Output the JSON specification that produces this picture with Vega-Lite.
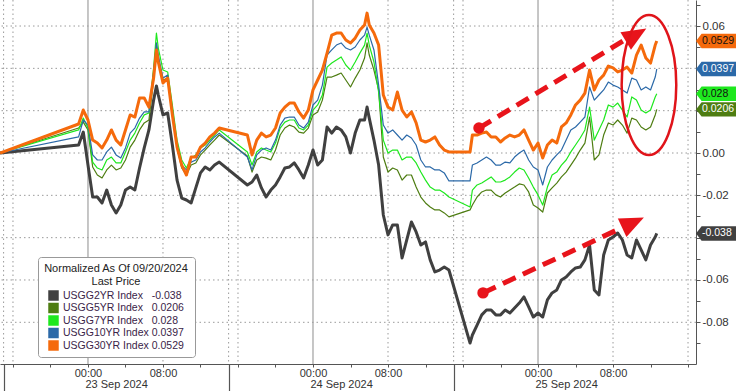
{
  "$schema": "https://vega.github.io/schema/vega-lite/v6.json",
  "width": 696,
  "height": 364,
  "autosize": {"type": "none"},
  "padding": {"left": 0, "top": 0, "right": 40, "bottom": 27},
  "background": "white",
  "config": {
    "view": {"stroke": null},
    "font": "Liberation Sans",
    "axis": {"labelFont": "Liberation Sans", "labelFontSize": 11, "labelColor": "#333333"},
    "legend": {"labelFont": "Liberation Sans", "titleFont": "Liberation Sans"}
  },
  "resolve": {"axis": {"x": "independent", "y": "independent"}, "legend": {"color": "independent"}},
  "layer": [
    {
      "data": {"values": [{"v": -0.08}, {"v": -0.06}, {"v": -0.04}, {"v": -0.02}, {"v": 0}, {"v": 0.02}, {"v": 0.04}, {"v": 0.06}]},
      "mark": {"type": "rule", "color": "#9a9a9a", "strokeWidth": 1, "strokeDash": [1.5, 3]},
      "encoding": {
        "y": {"field": "v", "type": "quantitative", "scale": {"domain": [-0.0997, 0.0723], "nice": false, "zero": false}, "axis": null}
      }
    },
    {
      "data": {"values": [{"t": "2024-09-22T16:00"}, {"t": "2024-09-23T08:00"}, {"t": "2024-09-23T16:00"}, {"t": "2024-09-24T08:00"}, {"t": "2024-09-24T16:00"}, {"t": "2024-09-25T08:00"}, {"t": "2024-09-25T16:00"}]},
      "mark": {"type": "rule", "color": "#9a9a9a", "strokeWidth": 1, "strokeDash": [1.5, 3]},
      "encoding": {
        "x": {"field": "t", "type": "temporal", "scale": {"domain": [{"year": 2024, "month": 9, "date": 22, "hours": 14, "minutes": 37}, {"year": 2024, "month": 9, "date": 25, "hours": 16, "minutes": 51}]}, "axis": null}
      }
    },
    {
      "data": {"values": [{"t": "2024-09-23T00:00"}, {"t": "2024-09-24T00:00"}, {"t": "2024-09-25T00:00"}]},
      "mark": {"type": "rule", "color": "#a0a0a0", "strokeWidth": 1.2},
      "encoding": {
        "x": {"field": "t", "type": "temporal", "scale": {"domain": [{"year": 2024, "month": 9, "date": 22, "hours": 14, "minutes": 37}, {"year": 2024, "month": 9, "date": 25, "hours": 16, "minutes": 51}]}, "axis": null}
      }
    },
    {
      "data": {"values": [{"t": "2024-09-22T15:00"}, {"t": "2024-09-23T15:00"}, {"t": "2024-09-24T15:00"}]},
      "mark": {"type": "rule", "color": "#9a9a9a", "strokeWidth": 1, "strokeDash": [1.5, 3]},
      "encoding": {
        "x": {
          "field": "t", "type": "temporal",
          "scale": {"domain": [{"year": 2024, "month": 9, "date": 22, "hours": 14, "minutes": 37}, {"year": 2024, "month": 9, "date": 25, "hours": 16, "minutes": 51}]},
          "axis": {
            "orient": "bottom", "title": null, "domain": false, "grid": false,
            "values": [{"year": 2024, "month": 9, "date": 22, "hours": 15}, {"year": 2024, "month": 9, "date": 23, "hours": 15}, {"year": 2024, "month": 9, "date": 24, "hours": 15}],
            "tickSize": 27, "tickColor": "#555555", "tickWidth": 1.2,
            "labelExpr": "timeFormat(time(datum.value) + 43200000, '%d %b %Y')",
            "labelOffset": 112.5, "labelPadding": -13, "labelOverlap": false, "labelBound": false, "labelFlush": false,
            "labelFontSize": 11
          }
        }
      }
    },
    {
      "data": {"values": [
        {"t": "2024-09-22T14:37", "y2": 0, "y5": 0, "y7": 0, "y10": 0, "y30": 0},
        {"t": "2024-09-22T23:00", "y2": 0.0038, "y5": 0.0118, "y7": 0.0109, "y10": 0.0076, "y30": 0.0137},
        {"t": "2024-09-22T23:30", "y2": 0.0099, "y5": 0.0146, "y7": 0.0165, "y10": 0.0156, "y30": 0.0203},
        {"t": "2024-09-23T00:00", "y2": -0.0057, "y5": 0.0109, "y7": 0.0118, "y10": 0.0132, "y30": 0.0156},
        {"t": "2024-09-23T00:30", "y2": -0.0208, "y5": -0.0066, "y7": -0.0043, "y10": -0.0009, "y30": 0.0061},
        {"t": "2024-09-23T01:00", "y2": -0.0208, "y5": -0.0104, "y7": -0.0071, "y10": -0.0033, "y30": 0.0047},
        {"t": "2024-09-23T01:30", "y2": -0.0236, "y5": -0.0118, "y7": -0.0080, "y10": -0.0033, "y30": 0.0024},
        {"t": "2024-09-23T02:00", "y2": -0.0175, "y5": -0.0080, "y7": -0.0033, "y10": 0.0005, "y30": 0.0061},
        {"t": "2024-09-23T02:30", "y2": -0.0246, "y5": -0.0057, "y7": -0.0019, "y10": 0.0028, "y30": 0.0109},
        {"t": "2024-09-23T03:00", "y2": -0.0283, "y5": -0.0080, "y7": -0.0047, "y10": -0.0009, "y30": 0.0061},
        {"t": "2024-09-23T03:30", "y2": -0.0246, "y5": -0.0071, "y7": -0.0047, "y10": -0.0024, "y30": 0.0038},
        {"t": "2024-09-23T04:00", "y2": -0.0175, "y5": -0.0033, "y7": 0.0005, "y10": 0.0024, "y30": 0.0109},
        {"t": "2024-09-23T04:30", "y2": -0.0161, "y5": 0.0028, "y7": 0.0061, "y10": 0.0094, "y30": 0.0180},
        {"t": "2024-09-23T05:00", "y2": -0.0175, "y5": 0.0061, "y7": 0.0094, "y10": 0.0118, "y30": 0.0170},
        {"t": "2024-09-23T05:30", "y2": -0.0071, "y5": 0.0109, "y7": 0.0142, "y10": 0.0165, "y30": 0.0260},
        {"t": "2024-09-23T06:00", "y2": 0.0024, "y5": 0.0142, "y7": 0.0180, "y10": 0.0194, "y30": 0.0260},
        {"t": "2024-09-23T06:30", "y2": 0.0109, "y5": 0.0156, "y7": 0.0189, "y10": 0.0194, "y30": 0.0217},
        {"t": "2024-09-23T07:00", "y2": 0.0250, "y5": 0.0345, "y7": 0.0402, "y10": 0.0383, "y30": 0.0354},
        {"t": "2024-09-23T07:18", "y2": 0.0317, "y5": 0.0510, "y7": 0.0567, "y10": 0.0520, "y30": 0.0487},
        {"t": "2024-09-23T07:30", "y2": 0.0274, "y5": 0.0439, "y7": 0.0496, "y10": 0.0463, "y30": 0.0430},
        {"t": "2024-09-23T08:00", "y2": 0.0180, "y5": 0.0345, "y7": 0.0392, "y10": 0.0354, "y30": 0.0331},
        {"t": "2024-09-23T08:30", "y2": 0.0189, "y5": 0.0354, "y7": 0.0383, "y10": 0.0368, "y30": 0.0354},
        {"t": "2024-09-23T09:00", "y2": 0.0038, "y5": 0.0203, "y7": 0.0227, "y10": 0.0203, "y30": 0.0180},
        {"t": "2024-09-23T09:30", "y2": -0.0128, "y5": 0.0024, "y7": 0.0061, "y10": 0.0038, "y30": 0.0028},
        {"t": "2024-09-23T10:00", "y2": -0.0213, "y5": -0.0071, "y7": -0.0033, "y10": -0.0057, "y30": -0.0057},
        {"t": "2024-09-23T10:30", "y2": -0.0222, "y5": -0.0104, "y7": -0.0071, "y10": -0.0080, "y30": -0.0104},
        {"t": "2024-09-23T11:00", "y2": -0.0236, "y5": -0.0057, "y7": -0.0024, "y10": -0.0043, "y30": -0.0019},
        {"t": "2024-09-23T11:30", "y2": -0.0165, "y5": -0.0047, "y7": -0.0009, "y10": -0.0033, "y30": -0.0019},
        {"t": "2024-09-23T12:00", "y2": -0.0094, "y5": -0.0009, "y7": 0.0024, "y10": 0.0005, "y30": 0.0028},
        {"t": "2024-09-23T12:30", "y2": -0.0066, "y5": 0.0014, "y7": 0.0038, "y10": 0.0024, "y30": 0.0047},
        {"t": "2024-09-23T13:00", "y2": -0.0080, "y5": 0.0038, "y7": 0.0061, "y10": 0.0052, "y30": 0.0076},
        {"t": "2024-09-23T13:30", "y2": -0.0057, "y5": 0.0061, "y7": 0.0085, "y10": 0.0076, "y30": 0.0094},
        {"t": "2024-09-23T14:00", "y2": -0.0043, "y5": 0.0085, "y7": 0.0109, "y10": 0.0094, "y30": 0.0118},
        {"t": "2024-09-23T17:00", "y2": -0.0151, "y5": -0.0014, "y7": 0.0005, "y10": -0.0019, "y30": 0.0085},
        {"t": "2024-09-23T17:30", "y2": -0.0137, "y5": -0.0090, "y7": -0.0057, "y10": -0.0080, "y30": -0.0009},
        {"t": "2024-09-23T18:00", "y2": -0.0104, "y5": -0.0033, "y7": 0.0005, "y10": -0.0009, "y30": 0.0061},
        {"t": "2024-09-23T18:30", "y2": -0.0165, "y5": -0.0019, "y7": 0.0024, "y10": 0.0014, "y30": 0.0094},
        {"t": "2024-09-23T19:00", "y2": -0.0208, "y5": -0.0024, "y7": 0.0014, "y10": 0.0024, "y30": 0.0076},
        {"t": "2024-09-23T19:30", "y2": -0.0175, "y5": -0.0033, "y7": 0.0005, "y10": 0.0014, "y30": 0.0085},
        {"t": "2024-09-23T20:00", "y2": -0.0151, "y5": 0.0014, "y7": 0.0047, "y10": 0.0061, "y30": 0.0118},
        {"t": "2024-09-23T20:30", "y2": -0.0113, "y5": 0.0085, "y7": 0.0118, "y10": 0.0132, "y30": 0.0189},
        {"t": "2024-09-23T21:00", "y2": -0.0071, "y5": 0.0118, "y7": 0.0146, "y10": 0.0165, "y30": 0.0217},
        {"t": "2024-09-23T21:30", "y2": -0.0066, "y5": 0.0132, "y7": 0.0156, "y10": 0.0170, "y30": 0.0236},
        {"t": "2024-09-23T22:00", "y2": -0.0047, "y5": 0.0123, "y7": 0.0156, "y10": 0.0170, "y30": 0.0236},
        {"t": "2024-09-23T22:30", "y2": -0.0080, "y5": 0.0099, "y7": 0.0118, "y10": 0.0132, "y30": 0.0194},
        {"t": "2024-09-23T23:00", "y2": -0.0118, "y5": 0.0094, "y7": 0.0109, "y10": 0.0118, "y30": 0.0165},
        {"t": "2024-09-23T23:30", "y2": -0.0057, "y5": 0.0118, "y7": 0.0132, "y10": 0.0146, "y30": 0.0203},
        {"t": "2024-09-24T00:00", "y2": 0.0014, "y5": 0.0180, "y7": 0.0203, "y10": 0.0227, "y30": 0.0298},
        {"t": "2024-09-24T00:30", "y2": -0.0057, "y5": 0.0194, "y7": 0.0227, "y10": 0.0250, "y30": 0.0345},
        {"t": "2024-09-24T01:00", "y2": -0.0033, "y5": 0.0250, "y7": 0.0274, "y10": 0.0321, "y30": 0.0392},
        {"t": "2024-09-24T01:30", "y2": 0.0123, "y5": 0.0359, "y7": 0.0406, "y10": 0.0463, "y30": 0.0472},
        {"t": "2024-09-24T02:00", "y2": 0.0094, "y5": 0.0359, "y7": 0.0425, "y10": 0.0487, "y30": 0.0557},
        {"t": "2024-09-24T02:30", "y2": 0.0123, "y5": 0.0368, "y7": 0.0439, "y10": 0.0510, "y30": 0.0567},
        {"t": "2024-09-24T03:00", "y2": 0.0109, "y5": 0.0378, "y7": 0.0454, "y10": 0.0520, "y30": 0.0567},
        {"t": "2024-09-24T03:30", "y2": 0.0076, "y5": 0.0345, "y7": 0.0416, "y10": 0.0496, "y30": 0.0534},
        {"t": "2024-09-24T04:00", "y2": 0.0000, "y5": 0.0312, "y7": 0.0392, "y10": 0.0487, "y30": 0.0520},
        {"t": "2024-09-24T04:30", "y2": 0.0094, "y5": 0.0354, "y7": 0.0430, "y10": 0.0501, "y30": 0.0543},
        {"t": "2024-09-24T05:00", "y2": 0.0156, "y5": 0.0392, "y7": 0.0472, "y10": 0.0534, "y30": 0.0581},
        {"t": "2024-09-24T05:30", "y2": 0.0156, "y5": 0.0449, "y7": 0.0510, "y10": 0.0557, "y30": 0.0605},
        {"t": "2024-09-24T05:46", "y2": 0.0217, "y5": 0.0520, "y7": 0.0567, "y10": 0.0595, "y30": 0.0661},
        {"t": "2024-09-24T06:00", "y2": 0.0165, "y5": 0.0463, "y7": 0.0510, "y10": 0.0557, "y30": 0.0605},
        {"t": "2024-09-24T06:30", "y2": 0.0061, "y5": 0.0392, "y7": 0.0430, "y10": 0.0487, "y30": 0.0567},
        {"t": "2024-09-24T07:00", "y2": -0.0057, "y5": 0.0298, "y7": 0.0288, "y10": 0.0321, "y30": 0.0510},
        {"t": "2024-09-24T07:30", "y2": -0.0293, "y5": -0.0019, "y7": 0.0061, "y10": 0.0132, "y30": 0.0274},
        {"t": "2024-09-24T08:00", "y2": -0.0387, "y5": -0.0090, "y7": 0.0000, "y10": 0.0094, "y30": 0.0217},
        {"t": "2024-09-24T08:30", "y2": -0.0340, "y5": -0.0071, "y7": 0.0014, "y10": 0.0109, "y30": 0.0203},
        {"t": "2024-09-24T09:00", "y2": -0.0340, "y5": -0.0080, "y7": 0.0014, "y10": 0.0085, "y30": 0.0288},
        {"t": "2024-09-24T09:30", "y2": -0.0496, "y5": -0.0128, "y7": -0.0033, "y10": 0.0061, "y30": 0.0203},
        {"t": "2024-09-24T10:00", "y2": -0.0411, "y5": -0.0104, "y7": -0.0019, "y10": 0.0085, "y30": 0.0170},
        {"t": "2024-09-24T10:30", "y2": -0.0326, "y5": -0.0104, "y7": -0.0019, "y10": 0.0071, "y30": 0.0194},
        {"t": "2024-09-24T11:00", "y2": -0.0373, "y5": -0.0161, "y7": -0.0047, "y10": 0.0038, "y30": 0.0142},
        {"t": "2024-09-24T11:30", "y2": -0.0435, "y5": -0.0208, "y7": -0.0090, "y10": -0.0033, "y30": 0.0061},
        {"t": "2024-09-24T12:00", "y2": -0.0420, "y5": -0.0236, "y7": -0.0128, "y10": -0.0066, "y30": 0.0052},
        {"t": "2024-09-24T12:30", "y2": -0.0505, "y5": -0.0255, "y7": -0.0161, "y10": -0.0066, "y30": 0.0061},
        {"t": "2024-09-24T13:00", "y2": -0.0562, "y5": -0.0269, "y7": -0.0175, "y10": -0.0080, "y30": 0.0076},
        {"t": "2024-09-24T13:30", "y2": -0.0553, "y5": -0.0269, "y7": -0.0175, "y10": -0.0080, "y30": 0.0038},
        {"t": "2024-09-24T14:00", "y2": -0.0539, "y5": -0.0283, "y7": -0.0189, "y10": -0.0094, "y30": 0.0014},
        {"t": "2024-09-24T14:30", "y2": -0.0553, "y5": -0.0302, "y7": -0.0208, "y10": -0.0132, "y30": 0.0005},
        {"t": "2024-09-24T16:45", "y2": -0.0898, "y5": -0.0269, "y7": -0.0255, "y10": -0.0132, "y30": 0.0005},
        {"t": "2024-09-24T17:00", "y2": -0.0860, "y5": -0.0246, "y7": -0.0175, "y10": -0.0057, "y30": 0.0085},
        {"t": "2024-09-24T17:30", "y2": -0.0813, "y5": -0.0208, "y7": -0.0151, "y10": -0.0047, "y30": 0.0085},
        {"t": "2024-09-24T18:00", "y2": -0.0765, "y5": -0.0184, "y7": -0.0142, "y10": -0.0033, "y30": 0.0094},
        {"t": "2024-09-24T18:30", "y2": -0.0742, "y5": -0.0175, "y7": -0.0128, "y10": -0.0019, "y30": 0.0099},
        {"t": "2024-09-24T19:00", "y2": -0.0742, "y5": -0.0175, "y7": -0.0113, "y10": -0.0033, "y30": 0.0076},
        {"t": "2024-09-24T19:30", "y2": -0.0765, "y5": -0.0198, "y7": -0.0137, "y10": -0.0057, "y30": 0.0076},
        {"t": "2024-09-24T20:00", "y2": -0.0765, "y5": -0.0208, "y7": -0.0137, "y10": -0.0057, "y30": 0.0052},
        {"t": "2024-09-24T20:30", "y2": -0.0742, "y5": -0.0189, "y7": -0.0128, "y10": -0.0043, "y30": 0.0071},
        {"t": "2024-09-24T21:00", "y2": -0.0756, "y5": -0.0175, "y7": -0.0113, "y10": -0.0047, "y30": 0.0085},
        {"t": "2024-09-24T21:30", "y2": -0.0732, "y5": -0.0161, "y7": -0.0090, "y10": -0.0019, "y30": 0.0076},
        {"t": "2024-09-24T22:00", "y2": -0.0709, "y5": -0.0146, "y7": -0.0071, "y10": 0.0000, "y30": 0.0085},
        {"t": "2024-09-24T22:30", "y2": -0.0680, "y5": -0.0151, "y7": -0.0080, "y10": 0.0014, "y30": 0.0109},
        {"t": "2024-09-24T23:00", "y2": -0.0727, "y5": -0.0184, "y7": -0.0118, "y10": -0.0033, "y30": 0.0061},
        {"t": "2024-09-24T23:30", "y2": -0.0775, "y5": -0.0246, "y7": -0.0161, "y10": -0.0066, "y30": 0.0014},
        {"t": "2024-09-25T00:00", "y2": -0.0756, "y5": -0.0260, "y7": -0.0198, "y10": -0.0080, "y30": 0.0047},
        {"t": "2024-09-25T00:30", "y2": -0.0775, "y5": -0.0279, "y7": -0.0246, "y10": -0.0151, "y30": -0.0024},
        {"t": "2024-09-25T01:00", "y2": -0.0694, "y5": -0.0189, "y7": -0.0161, "y10": -0.0066, "y30": 0.0038},
        {"t": "2024-09-25T01:30", "y2": -0.0661, "y5": -0.0165, "y7": -0.0104, "y10": -0.0033, "y30": 0.0061},
        {"t": "2024-09-25T02:00", "y2": -0.0647, "y5": -0.0142, "y7": -0.0090, "y10": -0.0009, "y30": 0.0047},
        {"t": "2024-09-25T02:30", "y2": -0.0600, "y5": -0.0113, "y7": -0.0057, "y10": 0.0014, "y30": 0.0123},
        {"t": "2024-09-25T03:00", "y2": -0.0586, "y5": -0.0090, "y7": -0.0033, "y10": 0.0061, "y30": 0.0142},
        {"t": "2024-09-25T03:30", "y2": -0.0562, "y5": -0.0057, "y7": 0.0005, "y10": 0.0109, "y30": 0.0180},
        {"t": "2024-09-25T04:00", "y2": -0.0543, "y5": -0.0024, "y7": 0.0038, "y10": 0.0123, "y30": 0.0227},
        {"t": "2024-09-25T04:30", "y2": -0.0539, "y5": 0.0014, "y7": 0.0071, "y10": 0.0146, "y30": 0.0250},
        {"t": "2024-09-25T05:00", "y2": -0.0505, "y5": 0.0047, "y7": 0.0109, "y10": 0.0170, "y30": 0.0283},
        {"t": "2024-09-25T05:30", "y2": -0.0435, "y5": 0.0170, "y7": 0.0217, "y10": 0.0312, "y30": 0.0392},
        {"t": "2024-09-25T06:00", "y2": -0.0647, "y5": -0.0033, "y7": 0.0061, "y10": 0.0250, "y30": 0.0298},
        {"t": "2024-09-25T06:30", "y2": -0.0671, "y5": -0.0009, "y7": 0.0109, "y10": 0.0274, "y30": 0.0345},
        {"t": "2024-09-25T07:00", "y2": -0.0482, "y5": 0.0085, "y7": 0.0156, "y10": 0.0298, "y30": 0.0368},
        {"t": "2024-09-25T07:30", "y2": -0.0411, "y5": 0.0142, "y7": 0.0227, "y10": 0.0335, "y30": 0.0411},
        {"t": "2024-09-25T08:00", "y2": -0.0397, "y5": 0.0132, "y7": 0.0217, "y10": 0.0321, "y30": 0.0402},
        {"t": "2024-09-25T08:30", "y2": -0.0378, "y5": 0.0156, "y7": 0.0236, "y10": 0.0312, "y30": 0.0383},
        {"t": "2024-09-25T09:00", "y2": -0.0411, "y5": 0.0132, "y7": 0.0203, "y10": 0.0298, "y30": 0.0392},
        {"t": "2024-09-25T09:30", "y2": -0.0482, "y5": 0.0094, "y7": 0.0170, "y10": 0.0283, "y30": 0.0406},
        {"t": "2024-09-25T10:00", "y2": -0.0496, "y5": 0.0165, "y7": 0.0265, "y10": 0.0354, "y30": 0.0378},
        {"t": "2024-09-25T10:30", "y2": -0.0411, "y5": 0.0156, "y7": 0.0250, "y10": 0.0345, "y30": 0.0463},
        {"t": "2024-09-25T11:00", "y2": -0.0458, "y5": 0.0123, "y7": 0.0203, "y10": 0.0298, "y30": 0.0510},
        {"t": "2024-09-25T11:30", "y2": -0.0505, "y5": 0.0109, "y7": 0.0189, "y10": 0.0312, "y30": 0.0449},
        {"t": "2024-09-25T12:00", "y2": -0.0435, "y5": 0.0123, "y7": 0.0203, "y10": 0.0298, "y30": 0.0425},
        {"t": "2024-09-25T12:30", "y2": -0.0397, "y5": 0.0180, "y7": 0.0265, "y10": 0.0359, "y30": 0.0510},
        {"t": "2024-09-25T12:40", "y2": -0.038, "y5": 0.0206, "y7": 0.028, "y10": 0.0397, "y30": 0.0529}
      ]},
      "transform": [{"fold": ["y2", "y5", "y7", "y10", "y30"], "as": ["series", "value"]}],
      "mark": {"type": "line", "interpolate": "linear", "strokeJoin": "round"},
      "encoding": {
        "x": {
          "field": "t", "type": "temporal",
          "scale": {"domain": [{"year": 2024, "month": 9, "date": 22, "hours": 14, "minutes": 37}, {"year": 2024, "month": 9, "date": 25, "hours": 16, "minutes": 51}]},
          "axis": {
            "orient": "bottom", "title": null, "grid": false,
            "values": [
              {"year": 2024, "month": 9, "date": 22, "hours": 16}, {"year": 2024, "month": 9, "date": 22, "hours": 20},
              {"year": 2024, "month": 9, "date": 23, "hours": 0}, {"year": 2024, "month": 9, "date": 23, "hours": 4}, {"year": 2024, "month": 9, "date": 23, "hours": 8}, {"year": 2024, "month": 9, "date": 23, "hours": 12}, {"year": 2024, "month": 9, "date": 23, "hours": 16}, {"year": 2024, "month": 9, "date": 23, "hours": 20},
              {"year": 2024, "month": 9, "date": 24, "hours": 0}, {"year": 2024, "month": 9, "date": 24, "hours": 4}, {"year": 2024, "month": 9, "date": 24, "hours": 8}, {"year": 2024, "month": 9, "date": 24, "hours": 12}, {"year": 2024, "month": 9, "date": 24, "hours": 16}, {"year": 2024, "month": 9, "date": 24, "hours": 20},
              {"year": 2024, "month": 9, "date": 25, "hours": 0}, {"year": 2024, "month": 9, "date": 25, "hours": 4}, {"year": 2024, "month": 9, "date": 25, "hours": 8}, {"year": 2024, "month": 9, "date": 25, "hours": 12}, {"year": 2024, "month": 9, "date": 25, "hours": 16}
            ],
            "tickSize": 3, "tickColor": "#555555", "domainColor": "#555555",
            "labelExpr": "hours(datum.value) == 0 ? '00:00' : (hours(datum.value) == 8 ? '08:00' : '')",
            "labelPadding": 0, "labelOverlap": false, "labelFlush": false, "labelFontSize": 11
          }
        },
        "y": {
          "field": "value", "type": "quantitative",
          "scale": {"domain": [-0.0997, 0.0723], "nice": false, "zero": false},
          "axis": {
            "orient": "right", "title": null, "grid": false,
            "values": [-0.09, -0.08, -0.07, -0.06, -0.05, -0.04, -0.03, -0.02, -0.01, 0, 0.01, 0.02, 0.03, 0.04, 0.05, 0.06, 0.07],
            "labelExpr": "indexof(['0.06', '0.00', '-0.02', '-0.06', '-0.08'], replace(format(datum.value, '.2f'), '\u2212', '-')) >= 0 ? replace(format(datum.value, '.2f'), '\u2212', '-') : ''",
            "tickSize": 4, "tickColor": "#555555", "domainColor": "#555555", "labelPadding": 2, "labelFontSize": 11.5
          }
        },
        "color": {
          "field": "series", "type": "nominal",
          "scale": {"domain": ["y2", "y5", "y7", "y10", "y30"], "range": ["#404040", "#4e7d12", "#1ee81e", "#2b69a8", "#f56a0c"]},
          "legend": null
        },
        "strokeWidth": {"condition": {"test": "datum.series == 'y2' || datum.series == 'y30'", "value": 3}, "value": 1.2}
      }
    },
    {
      "data": {"values": [
        {"t0": "2024-09-24T17:42", "v0": 0.0118, "t1": "2024-09-25T09:20", "v1": 0.0536},
        {"t0": "2024-09-24T18:08", "v0": -0.0661, "t1": "2024-09-25T09:00", "v1": -0.0352}
      ]},
      "mark": {"type": "rule", "color": "#e8141b", "strokeWidth": 5, "strokeDash": [14, 8], "strokeCap": "butt"},
      "encoding": {
        "x": {"field": "t0", "type": "temporal", "scale": {"domain": [{"year": 2024, "month": 9, "date": 22, "hours": 14, "minutes": 37}, {"year": 2024, "month": 9, "date": 25, "hours": 16, "minutes": 51}]}, "axis": null},
        "y": {"field": "v0", "type": "quantitative", "scale": {"domain": [-0.0997, 0.0723], "nice": false, "zero": false}, "axis": null},
        "x2": {"field": "t1"},
        "y2": {"field": "v1"}
      }
    },
    {
      "data": {"values": [
        {"t0": "2024-09-24T17:42", "v0": 0.0118},
        {"t0": "2024-09-24T18:08", "v0": -0.0661}
      ]},
      "mark": {"type": "point", "filled": true, "opacity": 1, "color": "#e8141b", "size": 130},
      "encoding": {
        "x": {"field": "t0", "type": "temporal", "scale": {"domain": [{"year": 2024, "month": 9, "date": 22, "hours": 14, "minutes": 37}, {"year": 2024, "month": 9, "date": 25, "hours": 16, "minutes": 51}]}, "axis": null},
        "y": {"field": "v0", "type": "quantitative", "scale": {"domain": [-0.0997, 0.0723], "nice": false, "zero": false}, "axis": null}
      }
    },
    {
      "data": {"values": [
        {"th": "2024-09-25T10:27", "vh": 0.0559},
        {"th": "2024-09-25T10:08", "vh": -0.0329}
      ]},
      "mark": {"type": "point", "filled": true, "opacity": 1, "color": "#e8141b", "size": 576, "shape": "M1,0 L-1,-0.85 L-1,0.85 Z"},
      "encoding": {
        "x": {"field": "th", "type": "temporal", "scale": {"domain": [{"year": 2024, "month": 9, "date": 22, "hours": 14, "minutes": 37}, {"year": 2024, "month": 9, "date": 25, "hours": 16, "minutes": 51}]}, "axis": null},
        "y": {"field": "vh", "type": "quantitative", "scale": {"domain": [-0.0997, 0.0723], "nice": false, "zero": false}, "axis": null},
        "angle": {"condition": {"test": "datum.vh > 0", "value": 329}, "value": 335}
      }
    },
    {
      "data": {"values": [{"tc": "2024-09-25T11:50", "vc": 0.0321}]},
      "mark": {"type": "point", "filled": false, "opacity": 1, "stroke": "#e0141a", "strokeWidth": 2.5, "size": 19600, "shape": "M0,-1 A0.39,1 0 1,1 0,1 A0.39,1 0 1,1 0,-1 Z"},
      "encoding": {
        "x": {"field": "tc", "type": "temporal", "scale": {"domain": [{"year": 2024, "month": 9, "date": 22, "hours": 14, "minutes": 37}, {"year": 2024, "month": 9, "date": 25, "hours": 16, "minutes": 51}]}, "axis": null},
        "y": {"field": "vc", "type": "quantitative", "scale": {"domain": [-0.0997, 0.0723], "nice": false, "zero": false}, "axis": null}
      }
    },
    {
      "data": {"values": [
        {"series": "y2", "value": -0.038, "label": "-0.038"},
        {"series": "y5", "value": 0.0206, "label": "0.0206"},
        {"series": "y7", "value": 0.028, "label": "0.028"},
        {"series": "y10", "value": 0.0397, "label": "0.0397"},
        {"series": "y30", "value": 0.0529, "label": "0.0529"}
      ]},
      "mark": {"type": "point", "filled": true, "opacity": 1, "size": 1600, "shape": "M0,0 L0.28,-0.36 L2,-0.36 L2,0.36 L0.28,0.36 Z"},
      "encoding": {
        "x": {"datum": {"year": 2024, "month": 9, "date": 25, "hours": 16, "minutes": 51}, "type": "temporal", "scale": {"domain": [{"year": 2024, "month": 9, "date": 22, "hours": 14, "minutes": 37}, {"year": 2024, "month": 9, "date": 25, "hours": 16, "minutes": 51}]}, "axis": null},
        "y": {"field": "value", "type": "quantitative", "scale": {"domain": [-0.0997, 0.0723], "nice": false, "zero": false}, "axis": null},
        "color": {
          "field": "series", "type": "nominal",
          "scale": {"domain": ["y2", "y5", "y7", "y10", "y30"], "range": ["#404040", "#4e7d12", "#1ee81e", "#2b69a8", "#f56a0c"]},
          "legend": {
            "orient": "none", "legendX": 38, "legendY": 257,
            "title": ["Normalized As Of 09/20/2024", "Last Price"],
            "titleFontSize": 11, "titleFontWeight": "normal", "titleColor": "#222222",
            "titleAnchor": "middle", "titleAlign": "center", "titleLineHeight": 13, "titlePadding": 3,
            "labelExpr": "datum.label == 'y2' ? 'USGG2YR Index\u00a0\u00a0\u00a0-0.038' : datum.label == 'y5' ? 'USGG5YR Index\u00a0\u00a0\u00a00.0206' : datum.label == 'y7' ? 'USGG7YR Index\u00a0\u00a0\u00a00.028' : datum.label == 'y10' ? 'USGG10YR Index\u00a00.0397' : 'USGG30YR Index\u00a00.0529'",
            "labelFontSize": 10.5, "labelColor": "#3a2448", "labelLimit": 300, "labelOffset": 4,
            "symbolType": "square", "symbolSize": 110, "symbolStrokeWidth": 0, "symbolOpacity": 1,
            "rowPadding": 1.5,
            "fillColor": "white", "strokeColor": "#999999", "cornerRadius": 3, "padding": 6
          }
        }
      }
    },
    {
      "data": {"values": [
        {"series": "y2", "value": -0.038, "label": "-0.038"},
        {"series": "y5", "value": 0.0206, "label": "0.0206"},
        {"series": "y7", "value": 0.028, "label": "0.028"},
        {"series": "y10", "value": 0.0397, "label": "0.0397"},
        {"series": "y30", "value": 0.0529, "label": "0.0529"}
      ]},
      "mark": {"type": "text", "align": "left", "baseline": "middle", "dx": 6, "fontSize": 10.5, "font": "Liberation Sans"},
      "encoding": {
        "x": {"datum": {"year": 2024, "month": 9, "date": 25, "hours": 16, "minutes": 51}, "type": "temporal", "scale": {"domain": [{"year": 2024, "month": 9, "date": 22, "hours": 14, "minutes": 37}, {"year": 2024, "month": 9, "date": 25, "hours": 16, "minutes": 51}]}, "axis": null},
        "y": {"field": "value", "type": "quantitative", "scale": {"domain": [-0.0997, 0.0723], "nice": false, "zero": false}, "axis": null},
        "text": {"field": "label"},
        "color": {"condition": {"test": "datum.series == 'y7' || datum.series == 'y30'", "value": "#111111"}, "value": "#ffffff"}
      }
    }
  ]
}
